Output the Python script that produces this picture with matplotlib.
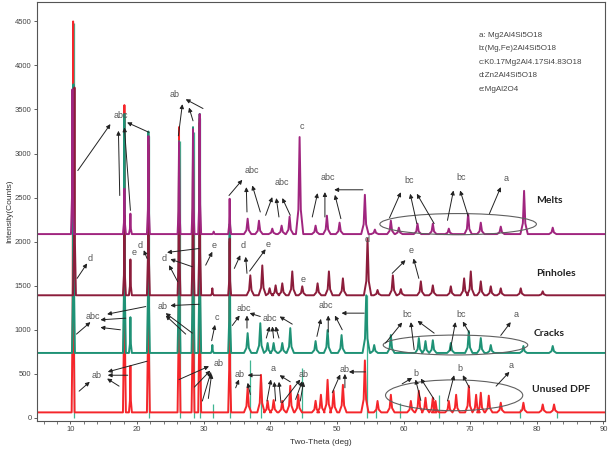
import numpy as np
import matplotlib.pyplot as plt
from matplotlib.patches import Ellipse

# ---- data (two-theta in deg, intensity in counts) ----
melts_base = 2085
melts_pos = [10.3, 18.1, 19.0, 21.7, 26.3, 28.4, 29.4, 31.5, 33.9, 36.6, 38.3, 40.3,
             41.7, 42.9, 44.4, 46.8, 48.5, 50.4, 54.2, 55.7, 58.1, 59.3, 62.1, 64.4,
             66.8, 69.7, 71.6, 74.6, 78.1, 82.4]
melts_int = [3729, 2600, 2317, 3198, 3130, 3277, 3447, 2113, 2486, 2260, 2237, 2147,
             2181, 2283, 3187, 2181, 2294, 2215, 2531, 2136, 2237, 2158, 2204, 2204,
             2147, 2317, 2215, 2170, 2576, 2158]

pin_base = 1390
pin_pos = [10.6, 18.1, 19.0, 21.7, 26.3, 28.4, 29.4, 31.3, 33.9, 37.0, 38.8, 39.9,
           40.8, 41.8, 43.3, 44.8, 47.1, 48.8, 50.9, 54.6, 56.1, 58.4, 59.6, 62.6,
           64.4, 67.1, 69.1, 70.1, 71.6, 73.1, 74.6, 77.6, 80.9]
pin_int = [3750, 2300, 1797, 3100, 2950, 3050, 3350, 1469, 2034, 1616, 1729, 1470,
           1503, 1526, 1661, 1492, 1526, 1661, 1582, 2034, 1450, 1616, 1460, 1548,
           1503, 1492, 1582, 1661, 1548, 1492, 1469, 1469, 1435]

crack_base = 735
crack_pos = [10.45, 18.1, 19.0, 21.7, 26.3, 28.4, 29.4, 31.3, 33.9, 36.6, 38.5, 39.6,
             40.5, 41.8, 43.0, 46.8, 48.6, 50.7, 54.4, 55.6, 58.1, 62.3, 63.3, 64.4,
             67.1, 69.8, 71.6, 73.1, 78.0, 82.4]
crack_int = [3786, 3450, 1141, 3250, 3140, 3300, 3450, 825, 2200, 960, 1073, 848,
             848, 848, 1017, 870, 995, 938, 1390, 825, 938, 904, 870, 880,
             848, 983, 904, 825, 814, 814]

unused_base = 60
unused_pos = [10.4, 18.1, 19.0, 21.7, 26.3, 28.4, 29.4, 33.9, 36.6, 38.6, 39.6, 40.5,
              41.8, 43.0, 44.2, 46.8, 47.6, 48.6, 49.5, 50.9, 54.2, 56.1, 58.1, 61.1,
              62.3, 63.3, 64.4, 64.8, 66.8, 67.9, 69.8, 70.9, 71.6, 72.8, 74.6, 78.0,
              80.9, 82.6]
unused_int = [4500, 3550, 588, 3200, 3300, 3150, 3400, 2000, 339, 486, 192, 200,
              190, 362, 260, 192, 260, 430, 305, 373, 650, 190, 260, 190,
              305, 226, 226, 190, 190, 260, 362, 260, 283, 250, 170, 170,
              150, 150]

# teal reference sticks seen in the lowest pattern
stick_pos = [10.5, 21.8, 26.5, 28.6, 29.5, 31.4, 34.0, 36.9, 38.6, 44.8, 54.5,
             55.9, 59.4, 65.3, 77.5, 83.0]
stick_int = [4480, 3200, 3140, 3250, 3400, 150, 2200, 660, 400, 560, 1390,
             100, 165, 260, 100, 60]

legend_lines = ["a: Mg2Al4Si5O18", "b:(Mg,Fe)2Al4Si5O18", "c:K0.17Mg2Al4.17Si4.83O18",
                "d:Zn2Al4Si5O18", "e:MgAl2O4"]

series = [("Unused DPF", unused_base, unused_pos, unused_int, "#f5262b"),
          ("Cracks", crack_base, crack_pos, crack_int, "#1f9276"),
          ("Pinholes", pin_base, pin_pos, pin_int, "#8c1d3b"),
          ("Melts", melts_base, melts_pos, melts_int, "#a0257f")]

series_labels = [("Melts", 81.9, 2467), ("Pinholes", 82.9, 1639),
                 ("Cracks", 81.9, 960), ("Unused DPF", 83.6, 320)]

# peak labels: (text, x, y)
peak_labels = [
    ("abc", 17.5, 3435), ("ab", 25.6, 3665), ("c", 44.8, 3307), ("abc", 37.3, 2806),
    ("abc", 41.7, 2675), ("abc", 48.6, 2723), ("bc", 60.9, 2693), ("bc", 68.6, 2731),
    ("a", 75.4, 2712),
    ("d", 12.9, 1808), ("e", 19.5, 1876), ("d", 20.4, 1958), ("d", 24.1, 1808),
    ("e", 31.6, 1958), ("d", 35.9, 1958), ("e", 39.7, 1966), ("e", 44.9, 1571),
    ("d", 54.6, 2026), ("e", 61.1, 1902),
    ("abc", 13.3, 1149), ("ab", 23.9, 1262), ("c", 32.0, 1138), ("abc", 36.1, 1243),
    ("abc", 40.0, 1130), ("abc", 48.3, 1273), ("bc", 60.6, 1175), ("bc", 68.6, 1175),
    ("a", 76.9, 1167),
    ("ab", 14.0, 478), ("ab", 32.3, 610), ("ab", 35.4, 490), ("a", 40.5, 557),
    ("ab", 45.0, 490), ("ab", 51.1, 546), ("b", 61.8, 497), ("b", 68.5, 557),
    ("a", 76.1, 595),
]

# arrows: (tail x, tail y, head x, head y) -- heads point at the labels
arrows = [
    (11.1, 2806, 16.0, 3334), (17.4, 2523, 17.2, 3258), (19.0, 2354, 18.1, 3296),
    (21.8, 3240, 18.5, 3353),
    (26.2, 3201, 26.8, 3560), (28.4, 3371, 27.8, 3522), (29.9, 3511, 27.3, 3616),
    (33.8, 2523, 35.8, 2701), (36.5, 2336, 36.4, 2618), (38.5, 2336, 37.3, 2637),
    (39.3, 2298, 40.3, 2505), (41.3, 2279, 40.9, 2494), (43.0, 2298, 41.8, 2494),
    (46.3, 2279, 47.1, 2550), (48.2, 2279, 48.2, 2562), (50.6, 2260, 49.7, 2531),
    (53.9, 2588, 49.6, 2588),
    (57.9, 2270, 59.6, 2560), (62.0, 2204, 61.0, 2543), (64.6, 2204, 62.0, 2543),
    (66.6, 2241, 67.5, 2580), (69.7, 2290, 68.5, 2580), (72.9, 2317, 74.6, 2618),
    (11.0, 1582, 12.5, 1752), (21.5, 1808, 21.0, 1902),
    (29.3, 1921, 24.5, 1876), (28.3, 1714, 25.0, 1800), (26.1, 1545, 24.8, 1732),
    (30.3, 1732, 31.3, 1884), (34.6, 1695, 35.5, 1845), (36.5, 1639, 36.3, 1827),
    (36.9, 1665, 39.3, 1913), (58.3, 1639, 60.3, 1789), (62.3, 1582, 61.5, 1808),
    (10.9, 949, 13.0, 1085), (21.3, 1262, 15.5, 1175), (18.3, 1130, 14.5, 1111),
    (17.5, 998, 14.5, 1025),
    (29.3, 1288, 25.0, 1273), (28.3, 960, 24.3, 1187), (27.3, 949, 24.3, 1160),
    (31.2, 874, 31.7, 1054),
    (34.3, 1047, 35.4, 1160), (36.5, 1017, 36.5, 1160), (38.5, 1149, 36.9, 1187),
    (39.4, 904, 39.9, 1036), (40.5, 904, 40.3, 1036), (41.3, 904, 40.8, 1036),
    (43.3, 1062, 41.4, 1149),
    (47.0, 923, 47.6, 1122), (48.7, 972, 48.7, 1160), (50.8, 998, 49.7, 1160),
    (54.1, 1187, 50.7, 1187),
    (57.3, 847, 59.8, 1081), (61.6, 772, 61.1, 1085), (64.6, 960, 62.1, 1100),
    (67.0, 760, 67.8, 1085), (69.9, 960, 68.9, 1092), (74.6, 934, 76.1, 1085),
    (11.3, 301, 12.9, 407), (21.5, 641, 15.6, 520), (18.6, 482, 15.6, 482),
    (17.3, 358, 15.5, 444),
    (26.3, 433, 30.8, 584), (28.6, 347, 31.0, 535), (29.8, 189, 31.1, 520),
    (30.7, 218, 31.2, 497),
    (34.8, 339, 35.3, 433), (38.5, 482, 36.6, 482), (37.0, 263, 36.6, 396),
    (39.5, 189, 40.1, 433), (40.8, 189, 40.6, 407), (41.6, 170, 41.3, 407),
    (43.0, 407, 41.4, 482),
    (41.8, 170, 44.5, 433), (43.8, 207, 44.8, 414), (44.5, 189, 45.0, 407),
    (49.3, 283, 50.5, 490), (51.2, 339, 51.2, 497), (54.3, 520, 51.8, 520),
    (59.8, 384, 61.3, 452), (62.6, 195, 61.8, 433), (64.6, 207, 62.6, 444),
    (66.6, 189, 67.6, 482), (69.9, 339, 68.9, 482), (73.9, 358, 75.9, 520),
]

# ellipses: (centre x, centre y, width, height)
ellipses = [(68.2, 2198, 23.5, 240), (67.8, 825, 21.7, 226), (67.6, 254, 20.6, 350)]


def profile(base, pos, inten):
    # vertices of each peak, joined along the flat baseline
    xs, ys = [5.0], [base]
    for p, h in sorted(zip(pos, inten)):
        hw = 0.22 if p < 35 else 0.55
        xs += [p - hw, p - hw / 3, p, p + hw / 3, p + hw]
        ys += [base, base + 0.25 * (h - base), h, base + 0.25 * (h - base), base]
    xs.append(90.3)
    ys.append(base)
    return np.array(xs), np.array(ys)


def main() -> None:
    fig = plt.figure(figsize=(6.09, 4.5), dpi=100)
    ax = fig.add_axes([0.061, 0.065, 0.933, 0.931])

    ax.vlines(stick_pos, 0, stick_int, color="#3fb592", lw=0.9, zorder=1)
    for name, base, pos, inten, col in series:
        x, y = profile(base, pos, inten)
        ax.plot(x, y, color=col, lw=1.4, zorder=2)

    for cx, cy, w, h in ellipses:
        ax.add_patch(Ellipse((cx, cy), w, h, fill=False, ec="#606060", lw=0.8, zorder=3))

    for x0, y0, x1, y1 in arrows:
        ax.annotate("", xy=(x1, y1), xytext=(x0, y0),
                    arrowprops=dict(arrowstyle="-|>", color="#222222", lw=0.7,
                                    mutation_scale=6, shrinkA=0, shrinkB=0), zorder=4)
    for txt, x, y in peak_labels:
        ax.text(x, y, txt, fontsize=6.5, color="#555555", ha="center", va="center",
                family="Liberation Sans", zorder=5)

    for txt, x, y in series_labels:
        ax.text(x, y, txt, fontsize=7.5, fontweight="bold", color="#222222",
                ha="center", va="center", family="Lato")

    for i, line in enumerate(legend_lines):
        ax.text(71.3, 4339 - i * 152, line, fontsize=5.8, color="#444444",
                va="center", family="Liberation Sans")

    ax.set_xlim(5, 90.3)
    ax.set_ylim(-35, 4723)
    ax.set_xticks(range(10, 91, 10))
    ax.set_xticks(range(6, 91, 2), minor=True)
    ax.set_yticks(range(0, 4501, 500))
    ax.tick_params(labelsize=5.5, labelcolor="#444444", color="#444444", length=2.5,
                   width=0.6, pad=1.5)
    ax.tick_params(which="minor", length=2, width=0.5, color="#444444")
    for lab in ax.get_xticklabels() + ax.get_yticklabels():
        lab.set_family("Liberation Sans")
    for sp in ax.spines.values():
        sp.set_color("#555555")
        sp.set_linewidth(0.8)
    ax.set_xlabel("Two-Theta (deg)", fontsize=6, color="#333333",
                  family="Liberation Sans", labelpad=4)
    ax.set_ylabel("Intensity(Counts)", fontsize=6, color="#333333",
                  family="Liberation Sans", labelpad=1)

    fig.savefig("out.png", dpi=100)


if __name__ == "__main__":
    main()
